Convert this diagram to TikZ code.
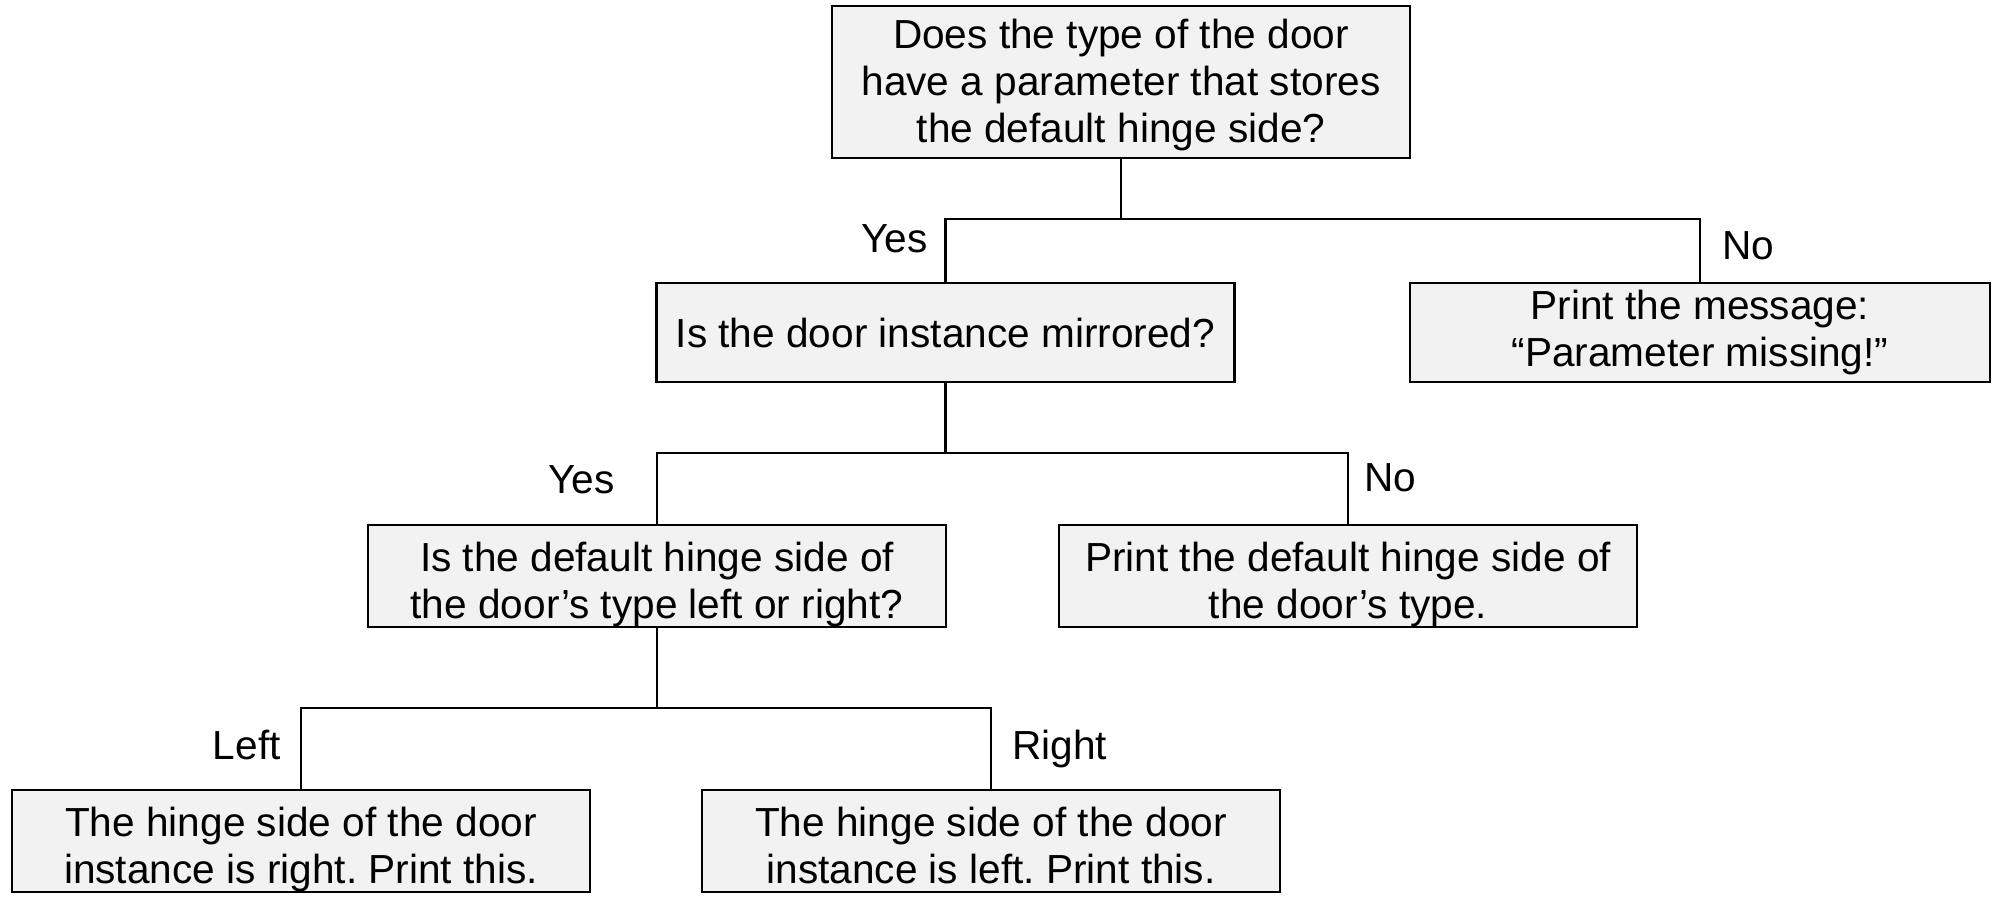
\documentclass[tikz,border=0pt]{standalone}
\usepackage{fontspec}
\setmainfont{Liberation Sans}
\frenchspacing
\newcommand{\hstrut}[1]{\rule{0pt}{#1}}
\newcommand{\dstrut}[1]{\rule[-#1]{0pt}{#1}}
\begin{document}
\begin{tikzpicture}[x=0.5pt,y=-0.5pt,
  box/.style={draw=black, line width=1.3pt, fill=black!5, align=center,
    minimum width=289pt, inner sep=0pt,
    font=\fontsize{20.3}{23.5}\selectfont\frenchspacing},
  conn/.style={draw=black, line width=1.1pt},
  lbl/.style={font=\fontsize{20.3}{23.5}\selectfont, inner sep=0pt,
    text height=14.6pt, text depth=0pt}]
\useasboundingbox (0,0) rectangle (1999,906);
\node[box, minimum height=76pt] (b1) at (1121,82) {\hstrut{17.8pt}Does the type of the door\\have a parameter that stores\\the default hinge side?\dstrut{4.4pt}};
\node[box, minimum height=49.5pt] (b2) at (945.5,332.5) {Is the door instance mirrored?};
\node[box, minimum height=49.5pt, minimum width=290pt] (b3) at (1700,332.5) {Print the message:\\“Parameter missing!”};
\node[box, minimum height=51pt] (b4) at (657,576) {\hstrut{23pt}Is the default hinge side of\\the door’s type left or right?\dstrut{4.4pt}};
\node[box, minimum height=51pt] (b5) at (1348,576) {\hstrut{23pt}Print the default hinge side of\\the door’s type.\dstrut{4.4pt}};
\node[box, minimum height=51pt] (b6) at (301,841) {\hstrut{23.2pt}The hinge side of the door\\instance is right. Print this.\dstrut{4.2pt}};
\node[box, minimum height=51pt] (b7) at (991,841) {\hstrut{23.2pt}The hinge side of the door\\instance is left. Print this.\dstrut{4.2pt}};
\coordinate (j1) at (1121,219);
\coordinate (j2) at (945.5,453);
\coordinate (j3) at (657,708);
\draw[conn] (b1.south) -- (j1);
\draw[conn] (b2.north) |- (j1) -| (b3.north);
\draw[conn] (b2.south) -- (j2);
\draw[conn] (b4.north) |- (j2) -| (b5.north);
\draw[conn] (b4.south) -- (j3);
\draw[conn] (b6.north) |- (j3) -| (b7.north);
\node[lbl, anchor=east] (y1) at (928,238) {Yes};
\node[lbl, anchor=west] (n1) at (1722,245) {No};
\node[lbl, anchor=east] (y2) at (615,479) {Yes};
\node[lbl, anchor=west] (n2) at (1364,477) {No};
\node[lbl, anchor=east] (l3) at (281,745) {Left};
\node[lbl, anchor=west] (r3) at (1012,745) {Right};
\end{tikzpicture}
\end{document}
